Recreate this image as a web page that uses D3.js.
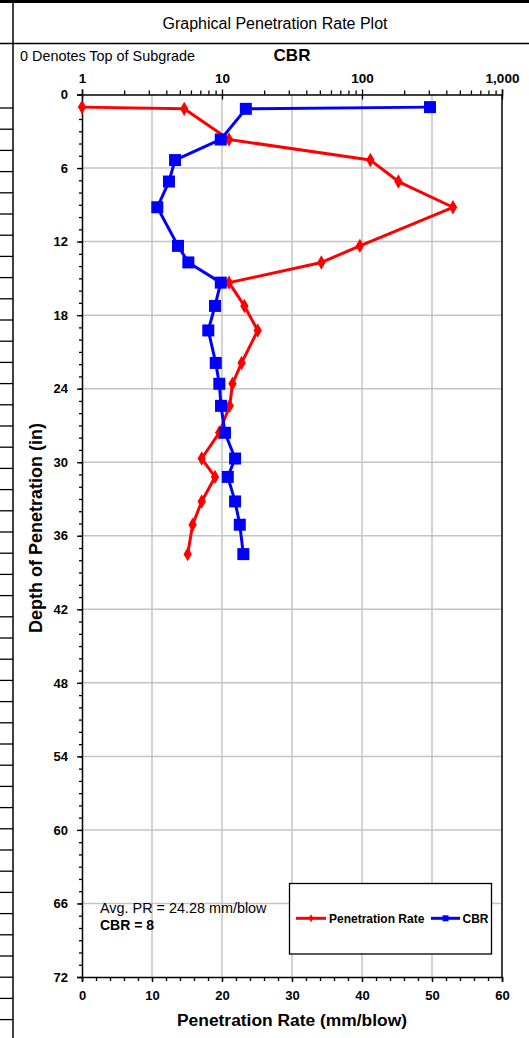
<!DOCTYPE html>
<html><head><meta charset="utf-8">
<script src="https://cdn.jsdelivr.net/npm/d3@7"></script>
<style>
html,body{margin:0;padding:0;background:#fff;}
svg{display:block;}
text{font-family:"Liberation Sans",Arial,sans-serif;fill:#000;}
</style></head>
<body>
<script>
// ---- data ----
const depths   = [1.03, 1.17, 3.67, 5.35, 7.1, 9.2, 12.35, 13.7, 15.35, 17.25, 19.25, 21.9, 23.6, 25.4, 27.6, 29.7, 31.2, 33.2, 35.1, 37.5];
const penRate  = [0.0, 14.6, 21.0, 41.2, 45.2, 53.0, 39.7, 34.2, 21.0, 23.2, 25.1, 22.8, 21.5, 21.1, 19.6, 17.1, 19.0, 17.1, 15.8, 15.1];
const cbrVals  = [306, 14.8, 9.8, 4.62, 4.18, 3.45, 4.85, 5.75, 9.8, 8.91, 7.98, 9.02, 9.57, 9.84, 10.5, 12.4, 11.0, 12.4, 13.4, 14.2];
const depthTicks = [0, 6, 12, 18, 24, 30, 36, 42, 48, 54, 60, 66, 72];
const prTicks    = [0, 10, 20, 30, 40, 50, 60];
const cbrTicks   = [1, 10, 100, 1000];
const cbrTickLabels = ["1", "10", "100", "1,000"];
const seriesNames = ["Penetration Rate", "CBR"];

const W = 529, H = 1038;
const L = 82, R = 502, T = 94.5, B = 977;

const svg = d3.select("body").append("svg").attr("width", W).attr("height", H);

// frame / table decoration
svg.append("line").attr("x1",0).attr("x2",W).attr("y1",1.5).attr("y2",1.5).attr("stroke","#000").attr("stroke-width",3);
svg.append("line").attr("x1",0).attr("x2",W).attr("y1",43.5).attr("y2",43.5).attr("stroke","#000").attr("stroke-width",1.5);
svg.append("line").attr("x1",13).attr("x2",13).attr("y1",0).attr("y2",H).attr("stroke","#000").attr("stroke-width",1.5);
for (let y = 108; y < 1025; y += 21.2) {
  svg.append("line").attr("x1",0).attr("x2",13).attr("y1",y).attr("y2",y).attr("stroke","#000").attr("stroke-width",1.3);
}

svg.append("text").attr("x",275).attr("y",28.5).attr("text-anchor","middle").attr("font-size",16).text("Graphical Penetration Rate Plot");
svg.append("text").attr("x",20).attr("y",60.5).attr("font-size",14.4).text("0 Denotes Top of Subgrade");
svg.append("text").attr("x",292).attr("y",61).attr("text-anchor","middle").attr("font-size",17).attr("font-weight","bold").text("CBR");

// scales
const y = d3.scaleLinear().domain([0,72]).range([T,B]);
const xPR = d3.scaleLinear().domain([0,60]).range([L,R]);
const xCBR = d3.scaleLog().domain([1,1000]).range([L,R]);

// gridlines
const grid = svg.append("g").attr("stroke","#c4c4c4").attr("stroke-width",1.5);
depthTicks.filter(d => d>0 && d<72).forEach(d => grid.append("line").attr("x1",L).attr("x2",R).attr("y1",y(d)).attr("y2",y(d)));
prTicks.filter(d => d>0 && d<60).forEach(d => grid.append("line").attr("x1",xPR(d)).attr("x2",xPR(d)).attr("y1",T).attr("y2",B));

// left axis
const minorDepth = d3.range(0,73,1);
svg.append("g").attr("transform",`translate(${L},0)`)
  .call(d3.axisLeft(y).tickValues(minorDepth).tickSize(3).tickFormat(""))
  .call(g => g.select(".domain").remove())
  .call(g => g.selectAll("line").attr("stroke","#000").attr("stroke-width",1.3));
svg.append("g").attr("transform",`translate(${L},0)`)
  .call(d3.axisLeft(y).tickValues(depthTicks).tickSize(5).tickPadding(9))
  .call(g => g.select(".domain").attr("stroke","#000").attr("stroke-width",1.5))
  .call(g => g.selectAll("line").attr("stroke","#000").attr("stroke-width",1.3))
  .call(g => g.selectAll("text").attr("font-size",13).attr("font-weight","bold").attr("font-family","Liberation Sans, Arial, sans-serif"));

// bottom axis
svg.append("g").attr("transform",`translate(0,${B})`)
  .call(d3.axisBottom(xPR).tickValues(d3.range(0,61,2)).tickSize(4).tickFormat(""))
  .call(g => g.select(".domain").remove())
  .call(g => g.selectAll("line").attr("stroke","#000").attr("stroke-width",1.3));
svg.append("g").attr("transform",`translate(0,${B})`)
  .call(d3.axisBottom(xPR).tickValues(prTicks).tickSize(5).tickPadding(9))
  .call(g => g.select(".domain").attr("stroke","#000").attr("stroke-width",1.5))
  .call(g => g.selectAll("line").attr("stroke","#000").attr("stroke-width",1.3))
  .call(g => g.selectAll("text").attr("font-size",13).attr("font-weight","bold").attr("font-family","Liberation Sans, Arial, sans-serif"));

// top axis (log)
const minorCBR = [];
[1,10,100].forEach(d => { for (let k=2;k<10;k++) minorCBR.push(d*k); });
svg.append("g").attr("transform",`translate(0,${T})`)
  .call(d3.axisTop(xCBR).tickValues(minorCBR).tickSize(4).tickFormat(""))
  .call(g => g.select(".domain").remove())
  .call(g => g.selectAll("line").attr("stroke","#000").attr("stroke-width",1.3));
svg.append("g").attr("transform",`translate(0,${T})`)
  .call(d3.axisTop(xCBR).tickValues(cbrTicks).tickSize(5).tickPadding(7).tickFormat((d,i) => cbrTickLabels[i]))
  .call(g => g.select(".domain").attr("stroke","#000").attr("stroke-width",1.5))
  .call(g => g.selectAll("line").attr("stroke","#000").attr("stroke-width",1.3).attr("y2",-5).attr("y1",5))
  .call(g => g.selectAll("text").attr("font-size",13.5).attr("font-weight","bold").attr("font-family","Liberation Sans, Arial, sans-serif"));

// right border
svg.append("line").attr("x1",R).attr("x2",R).attr("y1",T).attr("y2",B).attr("stroke","#000").attr("stroke-width",1.5);

// axis titles
svg.append("text").attr("transform",`translate(41.5,528) rotate(-90)`).attr("text-anchor","middle")
  .attr("font-size",18).attr("font-weight","bold").text("Depth of Penetration (in)");
svg.append("text").attr("x",(L+R)/2).attr("y",1025.5).attr("text-anchor","middle")
  .attr("font-size",17.4).attr("font-weight","bold").text("Penetration Rate (mm/blow)");

// series
const prData = depths.map((d,i) => ({d, v: penRate[i]}));
const cbrData = depths.map((d,i) => ({d, v: cbrVals[i]}));
const diamond = d3.symbol().type(d3.symbolDiamond).size(60);

svg.append("path").datum(prData)
  .attr("d", d3.line().x(p => xPR(p.v)).y(p => y(p.d)))
  .attr("fill","none").attr("stroke","#ff0000").attr("stroke-width",3).attr("stroke-linejoin","round");
svg.append("g").selectAll("path").data(prData).join("path")
  .attr("d", diamond).attr("transform", p => `translate(${xPR(p.v)},${y(p.d)})`).attr("fill","#ff0000");

svg.append("path").datum(cbrData)
  .attr("d", d3.line().x(p => xCBR(p.v)).y(p => y(p.d)))
  .attr("fill","none").attr("stroke","#0000ff").attr("stroke-width",3).attr("stroke-linejoin","round");
svg.append("g").selectAll("rect").data(cbrData).join("rect")
  .attr("x", p => xCBR(p.v)-6).attr("y", p => y(p.d)-6).attr("width",12).attr("height",12).attr("fill","#0000ff");

// annotation
svg.append("text").attr("x",100).attr("y",913).attr("font-size",14.4).attr("font-family","Lato, 'Open Sans', sans-serif").text("Avg. PR = 24.28 mm/blow");
svg.append("text").attr("x",100).attr("y",930).attr("font-size",14).attr("font-weight","bold").text("CBR = 8");

// legend
const lg = svg.append("g");
lg.append("rect").attr("x",289.5).attr("y",883.5).attr("width",202).attr("height",70.5).attr("fill","#fff").attr("stroke","#000").attr("stroke-width",1.3);
const ly = 918.3;
lg.append("line").attr("x1",296).attr("x2",326).attr("y1",ly).attr("y2",ly).attr("stroke","#ff0000").attr("stroke-width",3);
lg.append("path").attr("d", d3.symbol().type(d3.symbolDiamond).size(18)).attr("transform",`translate(311,${ly})`).attr("fill","#ff0000");
lg.append("text").attr("x",329).attr("y",ly+4.3).attr("font-size",12).attr("font-weight","bold").text(seriesNames[0]);
lg.append("line").attr("x1",431).attr("x2",460).attr("y1",ly).attr("y2",ly).attr("stroke","#0000ff").attr("stroke-width",3);
lg.append("rect").attr("x",442.5).attr("y",ly-3).attr("width",6).attr("height",6).attr("fill","#0000ff");
lg.append("text").attr("x",462.5).attr("y",ly+4.3).attr("font-size",12).attr("font-weight","bold").text(seriesNames[1]);
</script>
</body></html>
